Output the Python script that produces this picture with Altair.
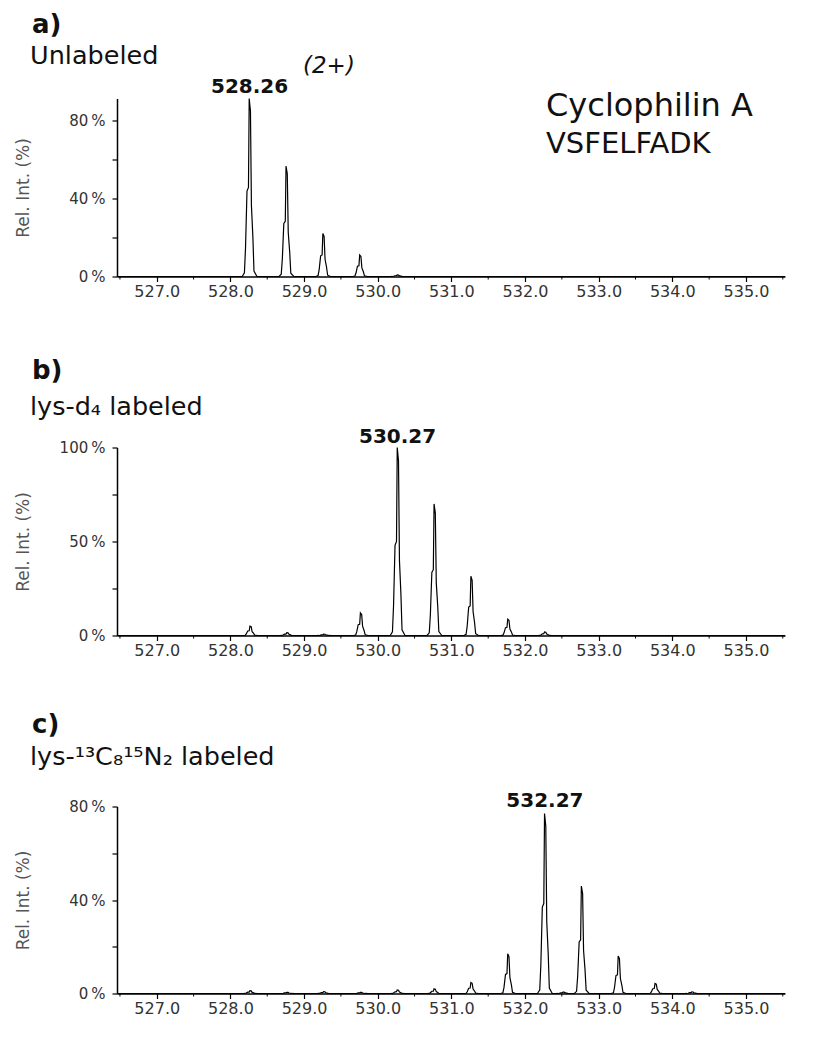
import json
import altair as alt
import pandas as pd

FONT = "DejaVu Sans"

# x axis (m/z)
X_MIN, X_MAX = 526.46, 535.53
X_TICKS = [527.0, 528.0, 529.0, 530.0, 531.0, 532.0, 533.0, 534.0, 535.0]
X_MINOR = [526.5, 527.5, 528.5, 529.5, 530.5, 531.5, 532.5, 533.5, 534.5, 535.5]

# peak line shape (offset in m/z, fraction of apex height)
PROFILE_DX = [-0.10, -0.07, -0.055, -0.035, -0.015, -0.005, 0.012, 0.025, 0.045, 0.06, 0.10]
PROFILE_REL = [0.0, 0.02, 0.16, 0.48, 0.50, 1.0, 0.93, 0.40, 0.22, 0.03, 0.0]

# a) unlabeled
A_MZ = [528.26, 528.76, 529.26, 529.76, 530.27]
A_INT = [91.0, 56.5, 22.0, 11.0, 0.8]
A_YMAX = 91
A_YTICKS = [0, 20, 40, 60, 80]
A_YLABELS = [0, 40, 80]

# b) lys-d4 labeled
B_MZ = [528.27, 528.77, 529.27, 529.77, 530.27, 530.77, 531.27, 531.77, 532.27]
B_INT = [5.0, 1.5, 0.7, 12.0, 100.0, 70.0, 31.5, 8.7, 1.9]
B_YMAX = 100
B_YTICKS = [0, 25, 50, 75, 100]
B_YLABELS = [0, 50, 100]

# c) lys-13C6 15N2 labeled
C_MZ = [528.27, 528.77, 529.27, 529.77, 530.27, 530.77, 531.27, 531.77,
        532.27, 532.52, 532.77, 533.27, 533.77, 534.27]
C_INT = [1.2, 0.5, 0.8, 0.5, 1.5, 2.0, 4.7, 17.0, 77.0, 0.6, 46.0, 16.0, 4.3, 0.7]
C_YMAX = 80
C_YTICKS = [0, 20, 40, 60, 80]
C_YLABELS = [0, 40, 80]

PLOT_W = 668


def peak_frame(mz, inten):
    rows = [{"mz": X_MIN, "ri": 0.0}]
    for c, h in zip(mz, inten):
        for dx, r in zip(PROFILE_DX, PROFILE_REL):
            rows.append({"mz": round(c + dx, 4), "ri": h * r})
    rows.append({"mz": X_MAX, "ri": 0.0})
    return pd.DataFrame(rows)


def txt(text, x, y, size, weight="normal", style="normal", align="left"):
    return alt.Chart(pd.DataFrame({"t": [text]})).mark_text(
        font=FONT, fontSize=size, fontWeight=weight, fontStyle=style,
        align=align, baseline="alphabetic", color="#111"
    ).encode(x=alt.value(x), y=alt.value(y), text="t:N")


def panel(letter, subtitle, mz, inten, ymax, yticks, ylabels, h,
          label_mz, label_int, label_dy, letter_y, sub_y, extras=()):
    xs = alt.Scale(domain=[X_MIN, X_MAX], nice=False, zero=False)
    ys = alt.Scale(domain=[0, ymax], nice=False, zero=True)
    xaxis = alt.Axis(values=X_TICKS, format=".1f", title=None, grid=False,
                     tickSize=5, tickWidth=1.2, tickColor="black",
                     domainColor="black", domainWidth=1.5,
                     labelFont=FONT, labelFontSize=16, labelColor="#333",
                     labelPadding=2, labelFlush=False, labelOverlap=False)
    expr = "indexof(%s, datum.value) >= 0 ? datum.value + '\u2009%%' : ''" % json.dumps(ylabels)
    yaxis = alt.Axis(values=yticks, labelExpr=expr, title="Rel. Int. (%)",
                     titleFont=FONT, titleFontSize=17, titleFontWeight="normal",
                     titleColor="#555", titleX=-85, titleY=h / 2, grid=False,
                     tickSize=5, tickWidth=1.2, tickColor="black",
                     domainColor="black", domainWidth=1.5,
                     labelFont=FONT, labelFontSize=15, labelColor="#333",
                     labelPadding=7, labelOverlap=False)
    X = alt.X("mz:Q", scale=xs, axis=xaxis)
    Y = alt.Y("ri:Q", scale=ys, axis=yaxis)
    line = alt.Chart(peak_frame(mz, inten)).mark_line(
        color="black", strokeWidth=1.2
    ).encode(x=X, y=Y)
    minor = alt.Chart(pd.DataFrame({"mz": X_MINOR})).mark_rule(
        color="black", strokeWidth=1
    ).encode(x=X, y=alt.value(h), y2=alt.value(h + 3))
    lab = alt.Chart(pd.DataFrame({"mz": [label_mz], "ri": [label_int],
                                  "t": ["%.2f" % label_mz]})).mark_text(
        font=FONT, fontSize=20, fontWeight="bold", dy=label_dy,
        baseline="alphabetic", align="center", color="#111"
    ).encode(x=X, y=Y, text="t:N")
    layers = [line, minor, lab,
              txt(letter, -85, letter_y, 26, "bold"),
              txt(subtitle, -87, sub_y, 25.5)] + list(extras)
    return alt.layer(*layers).properties(width=PLOT_W, height=h)


pa = panel("a)", "Unlabeled", A_MZ, A_INT, A_YMAX, A_YTICKS, A_YLABELS, 178,
           528.26, 91.0, -6, -66, -35,
           extras=[txt("(2+)", 186, -26, 23, style="italic"),
                   txt("Cyclophilin A", 429, 17, 32),
                   txt("VSFELFADK", 429, 54, 29)])
pb = panel("b)", "lys-d\u2084 labeled", B_MZ, B_INT, B_YMAX, B_YTICKS, B_YLABELS, 188,
           530.27, 100.0, -5, -69, -33)
pc = panel("c)", "lys-\u00b9\u00b3C\u2088\u00b9\u2075N\u2082 labeled", C_MZ, C_INT, C_YMAX,
           C_YTICKS, C_YLABELS, 187, 532.27, 77.0, -7, -74, -42)

chart = alt.vconcat(pa, pb, pc, spacing=171, bounds="flush").properties(
    padding={"left": 5, "top": 3.5, "right": 5, "bottom": 5},
    background="white"
).configure_view(stroke=None)

chart.save("out.html", embed_options={"renderer": "svg", "actions": False})
